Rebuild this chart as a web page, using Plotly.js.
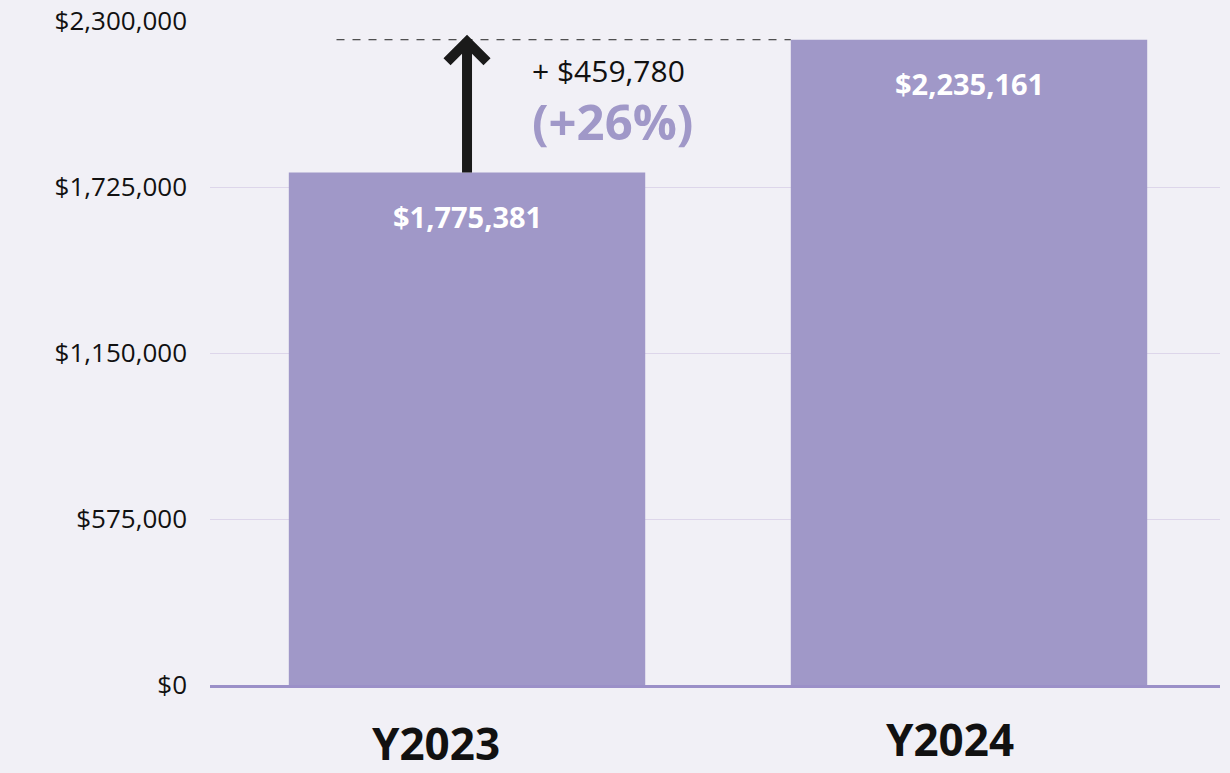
<!DOCTYPE html>
<html>
<head>
<meta charset="utf-8">
<script src="https://cdn.plot.ly/plotly-3.0.1.min.js"></script>
<style>html,body{margin:0;padding:0;background:#f1f0f6;}#chart{width:1230px;height:773px;}</style>
</head>
<body>
<div id="chart"></div>
<script>
const categories = ['Y2023', 'Y2024'];
const revenue = [1775381, 2235161];
const yTickVals = [0, 575000, 1150000, 1725000, 2300000];
const yTickText = ['$0', '$575,000', '$1,150,000', '$1,725,000', '$2,300,000'];

const FONT = 'Open Sans, Lato, sans-serif';
const BAR = '#a098c8';
const fmt = v => '$' + v.toLocaleString('en-US');
const diff = revenue[1] - revenue[0];
const pct = Math.round(diff / revenue[0] * 100);

const trace = {
  type: 'bar',
  x: [0, 1],
  y: revenue,
  marker: {color: BAR},
  width: 0.71,
  hoverinfo: 'skip'
};

const annotations = [];
revenue.forEach((v, i) => {
  annotations.push({x: i, y: v, xref: 'x', yref: 'y', text: '<b>' + fmt(v) + '</b>',
    showarrow: false, yanchor: 'middle', yshift: -44,
    font: {family: FONT, size: 29, color: '#ffffff'}});
});
const labelShift = [-31, -19];
const labelY = [-58, -54];
categories.forEach((c, i) => {
  annotations.push({x: i, y: 0, xref: 'x', yref: 'y', text: '<b>' + c + '</b>',
    showarrow: false, yanchor: 'middle', xshift: labelShift[i], yshift: labelY[i],
    font: {family: FONT, size: 44, color: '#111111'}});
});
annotations.push({x: 0.125, y: revenue[1], xref: 'x', yref: 'y', xanchor: 'left', yanchor: 'middle',
  yshift: -31, showarrow: false, text: '+ ' + fmt(diff),
  font: {family: FONT, size: 30, color: '#111111'}});
annotations.push({x: 0.125, y: revenue[1], xref: 'x', yref: 'y', xanchor: 'left', yanchor: 'middle',
  yshift: -81, showarrow: false, text: '<b>(+' + pct + '%)</b>',
  font: {family: FONT, size: 49, color: BAR}});

const shapes = [
  {type: 'line', xref: 'x', yref: 'y', x0: -0.26, x1: 0.645, y0: revenue[1], y1: revenue[1],
   line: {color: '#222222', width: 1, dash: '8px,8px'}},
  {type: 'line', xref: 'x', yref: 'y', x0: 0, x1: 0, y0: revenue[0], y1: revenue[1],
   line: {color: '#1a1a1a', width: 10}},
  {type: 'path', xref: 'x', yref: 'y', xsizemode: 'pixel', ysizemode: 'pixel',
   xanchor: 0, yanchor: revenue[1], path: 'M -20,-22 L 0,-2 L 20,-22',
   line: {color: '#1a1a1a', width: 10}}
];

const layout = {
  width: 1230, height: 773,
  paper_bgcolor: '#f1f0f6', plot_bgcolor: '#f1f0f6',
  margin: {l: 210, r: 10, t: 21, b: 88},
  showlegend: false,
  bargap: 0.29,
  xaxis: {range: [-0.512, 1.5], tickvals: [0, 1], ticktext: categories, showticklabels: false,
    showgrid: false, zeroline: false, showline: true, linecolor: '#9b90c8', linewidth: 3, fixedrange: true},
  yaxis: {range: [0, 2300000], tickvals: yTickVals, ticktext: yTickText,
    tickfont: {family: FONT, size: 26, color: '#111111'}, ticklabelstandoff: 22,
    ticklabeloverflow: 'allow',
    gridcolor: '#ddd6ea', gridwidth: 1, zeroline: false, showline: false, fixedrange: true},
  annotations: annotations,
  shapes: shapes,
  font: {family: FONT}
};

Plotly.newPlot('chart', [trace], layout, {displayModeBar: false, staticPlot: true});
</script>
</body>
</html>
